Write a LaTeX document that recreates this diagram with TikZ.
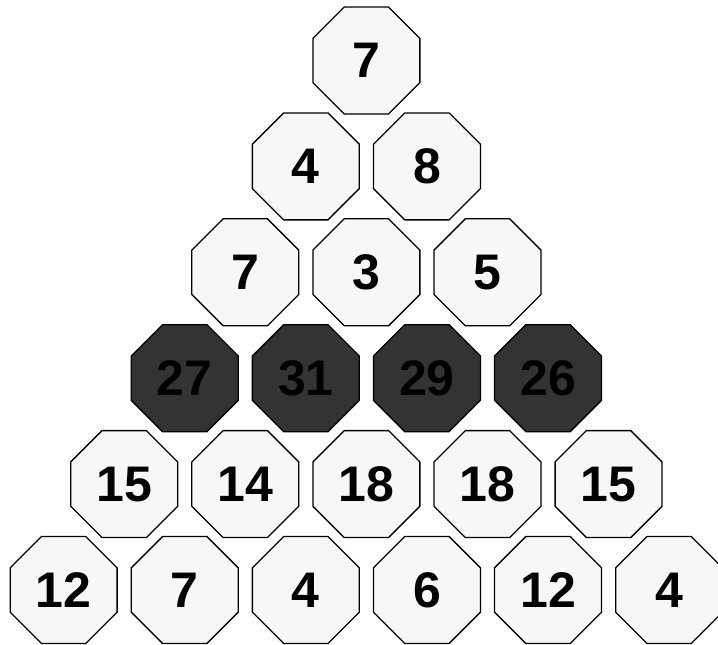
\documentclass[tikz,border=0pt]{standalone}
\usepackage{fontspec}
\setmainfont{Liberation Sans}
\usetikzlibrary{shapes.geometric}
\definecolor{cellfill}{HTML}{F7F7F7}
\definecolor{darkfill}{HTML}{333333}
\tikzset{
  cell/.style={regular polygon, regular polygon sides=8, minimum size=115.8pt,
    inner sep=0pt, outer sep=0pt, draw=black, line width=1.3pt, fill=cellfill,
    font=\fontsize{50}{50}\selectfont\bfseries, text=black},
  darkcell/.style={cell, fill=darkfill}
}
\begin{document}
\begin{tikzpicture}[x=1pt,y=-1pt]
\useasboundingbox (0,0) rectangle (718,645);
\def\dx{121.1}
\def\dy{105.9}
\foreach \r/\vals/\sty in {0/{7}/cell, 1/{4,8}/cell, 2/{7,3,5}/cell, 3/{27,31,29,26}/darkcell, 4/{15,14,18,18,15}/cell, 5/{12,7,4,6,12,4}/cell}{
  \foreach \v [count=\i from 0] in \vals {
    \node[\sty] (n\r-\i) at ({366.4-\r*\dx/2+\i*\dx},{60.5+\r*\dy}) {\v};
  }
}
\end{tikzpicture}
\end{document}
